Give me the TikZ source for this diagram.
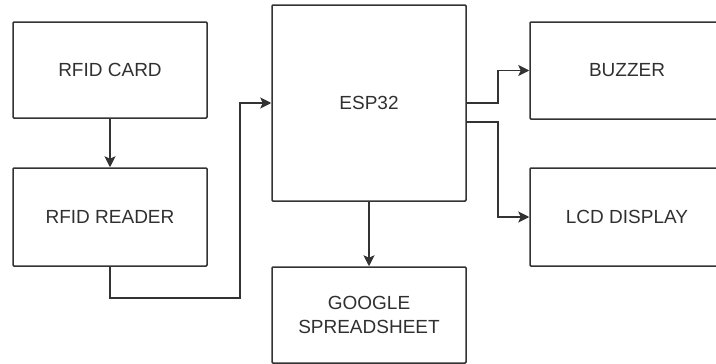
\documentclass[tikz,border=0pt]{standalone}
\usepackage{fontspec}
\setmainfont{Liberation Sans}
\usetikzlibrary{arrows.meta}
\definecolor{linec}{HTML}{333333}
\definecolor{textc}{HTML}{303030}
\tikzset{
  blk/.style={draw=linec, line width=1.5pt, rounded corners=1pt, minimum width=194pt, inner sep=0pt, align=center, text=textc, font=\fontsize{19pt}{24pt}\selectfont},
  arr/.style={draw=linec, line width=1.5pt, -{Stealth[length=11pt,width=11pt,inset=2.5pt]}}
}
\begin{document}
\begin{tikzpicture}[x=1pt,y=-1pt]
\useasboundingbox (0,0) rectangle (716,364);
\clip (0,0) rectangle (716,364);
\node[blk, minimum height=96pt] (card) at (110,70) {RFID CARD};
\node[blk, minimum height=98pt] (reader) at (110,217) {RFID READER};
\node[blk, minimum height=196pt] (esp) at (369,103) {ESP32};
\node[blk, minimum height=96pt] (google) at (369,315) {GOOGLE\\SPREADSHEET};
\node[blk, minimum height=97pt] (buzzer) at (627,70.5) {BUZZER};
\node[blk, minimum height=98pt] (lcd) at (627,217) {LCD DISPLAY};
\coordinate (j1) at (240,298);
\coordinate (j2) at (498,103);
\coordinate (j3) at (498,122);
\coordinate (e2) at (467,122);
\draw[arr] (card.south) -- (reader.north);
\draw[arr] (reader.south) |- (j1) |- (esp.west);
\draw[arr] (esp.east) -- (j2) |- (buzzer.west);
\draw[arr] (e2) -- (j3) |- (lcd.west);
\draw[arr] (esp.south) -- (google.north);
\end{tikzpicture}
\end{document}
